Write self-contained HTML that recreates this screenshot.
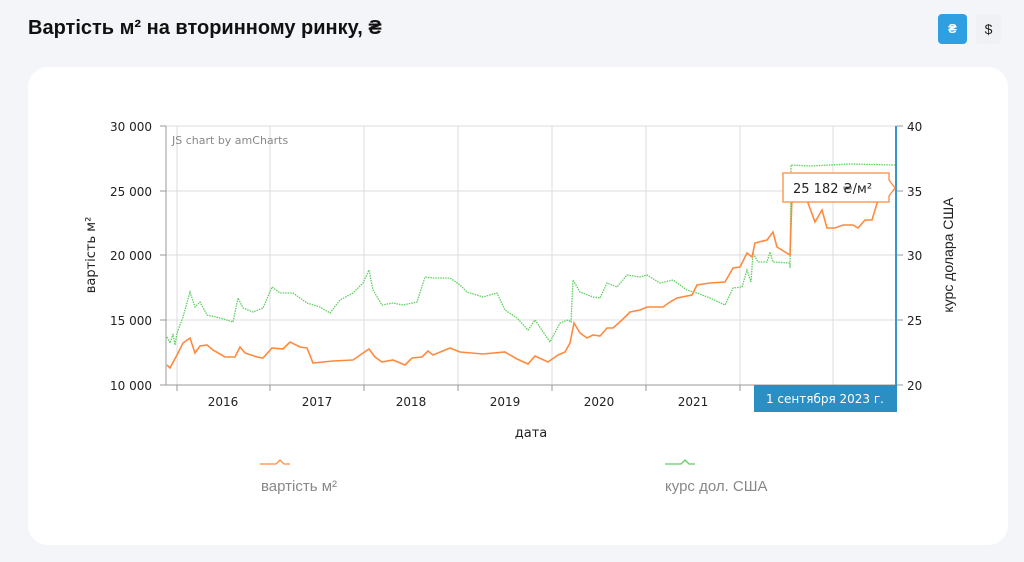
<!DOCTYPE html>
<html><head><meta charset="utf-8"><style>
body{margin:0;width:1024px;height:562px;background:#f4f5f9;font-family:"Liberation Sans",sans-serif;overflow:hidden;position:relative}
.t{position:absolute;left:28px;top:17px;font-size:20px;font-weight:bold;color:#111}
.b1{position:absolute;left:938px;top:14px;width:29px;height:30px;background:#2e9fe0;border-radius:4px;color:#fff;font-size:13px;text-align:center;line-height:30px;font-weight:bold}
.b2{position:absolute;left:976px;top:14px;width:25px;height:30px;background:#f0f1f4;border-radius:4px;color:#222;font-size:14px;text-align:center;line-height:30px}
.card{position:absolute;left:28px;top:67px;width:980px;height:478px;background:#fff;border-radius:20px}
svg{position:absolute;left:0;top:0}
</style></head><body>
<div class="t">Вартість м² на вторинному ринку, ₴</div>
<div class="b1">₴</div><div class="b2">$</div>
<div class="card"></div>
<svg width="1024" height="562" font-family="DejaVu Sans, Verdana, sans-serif">
<g stroke="#ddd" stroke-width="1">
<line x1="166" y1="126" x2="897" y2="126"/><line x1="166" y1="191" x2="897" y2="191"/><line x1="166" y1="255" x2="897" y2="255"/><line x1="166" y1="320" x2="897" y2="320"/>
<line x1="177" y1="126" x2="177" y2="385"/><line x1="270" y1="126" x2="270" y2="385"/><line x1="364" y1="126" x2="364" y2="385"/><line x1="458" y1="126" x2="458" y2="385"/><line x1="552" y1="126" x2="552" y2="385"/><line x1="646" y1="126" x2="646" y2="385"/><line x1="740" y1="126" x2="740" y2="385"/><line x1="833" y1="126" x2="833" y2="385"/>
</g>
<g stroke="#999" stroke-width="1">
<line x1="166" y1="126" x2="166" y2="385"/><line x1="160" y1="385" x2="897" y2="385"/>
<line x1="160" y1="126" x2="166" y2="126"/><line x1="160" y1="191" x2="166" y2="191"/><line x1="160" y1="255" x2="166" y2="255"/><line x1="160" y1="320" x2="166" y2="320"/>
<line x1="897" y1="126" x2="903" y2="126"/><line x1="897" y1="191" x2="903" y2="191"/><line x1="897" y1="255" x2="903" y2="255"/><line x1="897" y1="320" x2="903" y2="320"/><line x1="897" y1="385" x2="903" y2="385"/>
<line x1="177" y1="385" x2="177" y2="391"/><line x1="270" y1="385" x2="270" y2="391"/><line x1="364" y1="385" x2="364" y2="391"/><line x1="458" y1="385" x2="458" y2="391"/><line x1="552" y1="385" x2="552" y2="391"/><line x1="646" y1="385" x2="646" y2="391"/><line x1="740" y1="385" x2="740" y2="391"/>
</g>
<line x1="896" y1="126" x2="896" y2="385" stroke="#3a95c8" stroke-width="2"/>
<g font-size="12" fill="#222" text-anchor="end">
<text x="152" y="131">30 000</text><text x="152" y="196">25 000</text><text x="152" y="260">20 000</text><text x="152" y="325">15 000</text><text x="152" y="390">10 000</text>
</g>
<g font-size="12" fill="#222">
<text x="907" y="131">40</text><text x="907" y="196">35</text><text x="907" y="260">30</text><text x="907" y="325">25</text><text x="907" y="390">20</text>
</g>
<g font-size="12" fill="#222" text-anchor="middle">
<text x="223" y="406">2016</text><text x="317" y="406">2017</text><text x="411" y="406">2018</text><text x="505" y="406">2019</text><text x="599" y="406">2020</text><text x="693" y="406">2021</text>
</g>
<text x="172" y="144" font-size="11" fill="#888">JS chart by amCharts</text>
<polyline fill="none" stroke="#5fcf5f" stroke-width="1.3" stroke-dasharray="1.5 1" points="167,337 170,343 173,334 175,345 177,333 183,317 190,292 195,307 200,302 207,315 220,318 233,322 238,298 243,308 253,312 263,308 272,287 280,293 293,293 307,303 320,307 330,313 340,300 353,293 363,283 369,270 373,290 382,305 393,303 403,305 417,302 425,277 433,278 450,278 460,285 467,292 483,297 497,293 505,310 517,318 528,330 535,320 550,342 560,323 568,320 571,322 573,280 580,292 593,297 600,298 607,283 617,287 627,275 640,277 647,275 660,283 673,280 687,290 697,293 710,298 725,305 733,288 742,287 747,270 751,282 753,253 758,262 767,262 770,252 773,262 790,263 790,268 791,165 810,166 850,164 895,165"/>
<polyline fill="none" stroke="#ff8a3d" stroke-width="1.6" points="167,365 170,368 177,355 183,343 190,338 195,353 200,346 207,345 213,350 225,357 235,357 240,347 245,353 257,357 263,358 272,348 283,349 290,342 300,347 307,348 313,363 333,361 353,360 363,353 369,349 375,357 382,362 393,360 405,365 412,358 422,357 428,351 433,355 450,348 460,352 483,354 505,352 517,359 528,364 535,356 548,362 558,355 565,352 570,343 574,323 580,333 587,338 593,335 600,336 607,328 613,328 622,320 630,312 640,310 647,307 663,307 670,302 677,298 692,295 697,285 710,283 725,282 733,268 740,267 747,253 752,257 755,243 767,240 773,232 777,247 790,255 792,197 803,190 808,203 815,222 822,210 827,228 835,228 843,225 853,225 858,228 865,220 872,220 878,200 888,195 895,188"/>
<rect x="754" y="385" width="143" height="27" fill="#2b8fc3"/>
<text x="825" y="403" font-size="12" fill="#fff" text-anchor="middle">1 сентября 2023 г.</text>
<path d="M783,173 H889 V180 L895,188 L889,196 V202 H783 Z" fill="#fff" stroke="#ff8a3d" stroke-width="1.3"/>
<text x="793" y="193" font-size="13" fill="#222">25 182 ₴/м²</text>
<text x="531" y="437" font-size="13" fill="#222" text-anchor="middle">дата</text>
<text transform="translate(95,255) rotate(-90)" font-size="13" fill="#222" text-anchor="middle">вартість м²</text>
<text transform="translate(953,255) rotate(-90)" font-size="14" fill="#222" text-anchor="middle" font-family="Liberation Sans, sans-serif">курс долара США</text>
<polyline points="260,464 276,464 280,460 284,464 290,464" fill="none" stroke="#ff8a3d" stroke-width="1.3"/>
<polyline points="665,464 681,464 685,460 689,464 695,464" fill="none" stroke="#5fcf5f" stroke-width="1.3"/>
<text x="261" y="491" font-size="15" fill="#888" font-family="Liberation Sans, sans-serif">вартість м²</text>
<text x="665" y="491" font-size="15" fill="#888" font-family="Liberation Sans, sans-serif">курс дол. США</text>
</svg>
</body></html>
